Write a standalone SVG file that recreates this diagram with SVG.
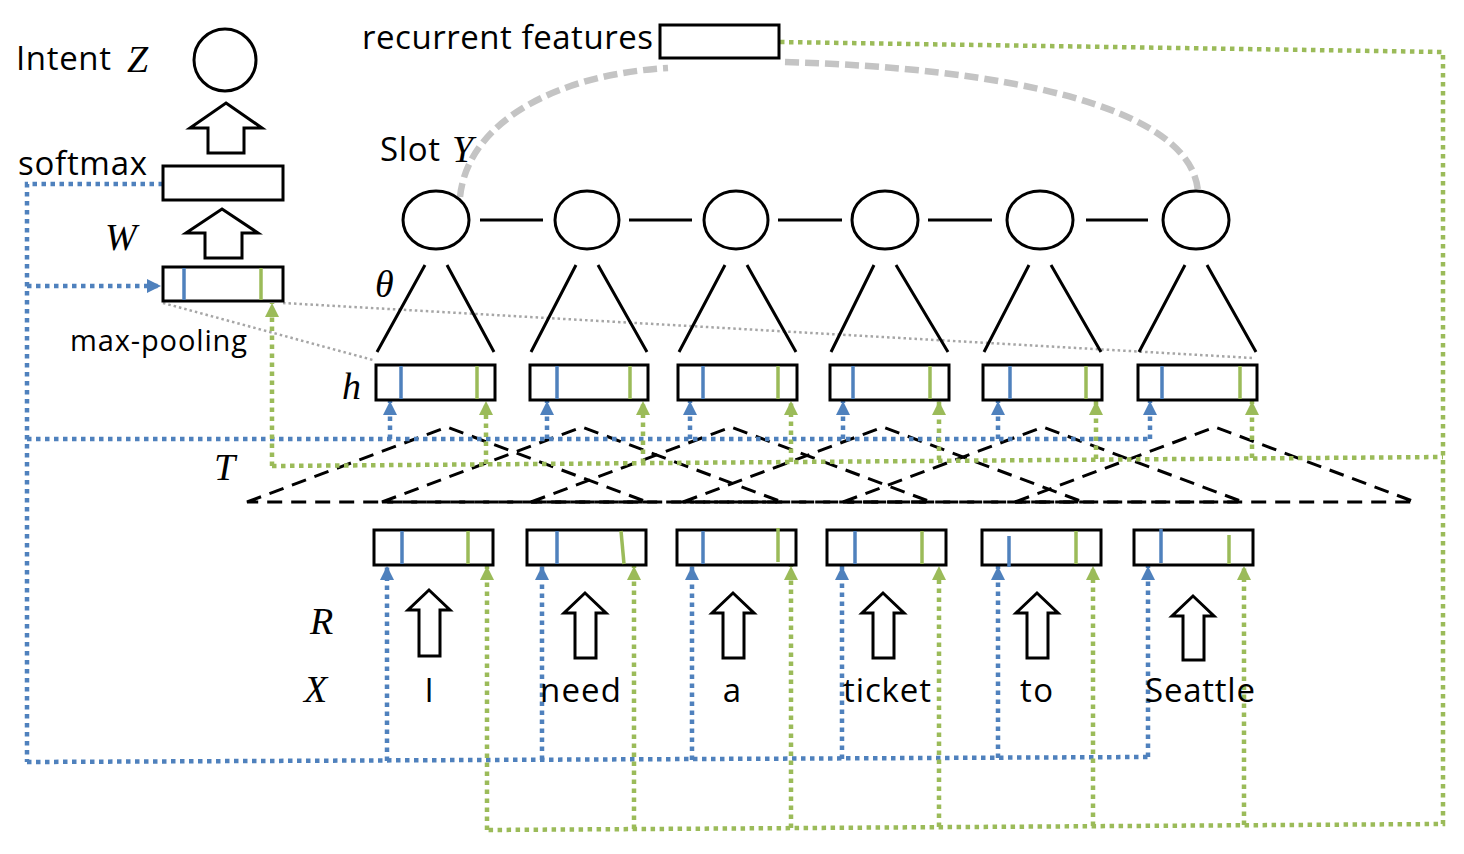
<svg xmlns="http://www.w3.org/2000/svg" width="1464" height="854" viewBox="0 0 1464 854">
<defs>
<style>
.box{fill:#fff;stroke:#000;stroke-width:3}
.circ{fill:#fff;stroke:#000;stroke-width:3}
.ln{stroke:#000;stroke-width:3;fill:none}
.barb{stroke:#4F81BD;stroke-width:3.5}
.barg{stroke:#9BBB59;stroke-width:3.5}
.blue{stroke:#4F81BD;stroke-width:4.5;stroke-dasharray:4.5 4.5;fill:none}
.green{stroke:#9BBB59;stroke-width:4.5;stroke-dasharray:4.5 4.5;fill:none}
.gray{stroke:#a6a6a6;stroke-width:2.5;stroke-dasharray:2.5 3;fill:none}
.grayd{stroke:#c4c4c4;stroke-width:6.5;stroke-dasharray:14 6;fill:none}
.tri{stroke:#000;stroke-width:3;stroke-dasharray:15 9;fill:none}
.blk{fill:#fff;stroke:#000;stroke-width:3;stroke-linejoin:miter}
.sans{font-family:'Open Sans','Noto Sans',sans-serif;font-size:33px;fill:#000}
.math{font-family:'Liberation Serif',serif;font-style:italic;font-size:38px;fill:#000}
</style>
<marker id="ab" viewBox="0 0 10 10" refX="10" refY="5" markerWidth="14" markerHeight="14" markerUnits="userSpaceOnUse" orient="auto"><path d="M0,0 L10,5 L0,10 z" fill="#4F81BD"/></marker>
<marker id="ag" viewBox="0 0 10 10" refX="10" refY="5" markerWidth="14" markerHeight="14" markerUnits="userSpaceOnUse" orient="auto"><path d="M0,0 L10,5 L0,10 z" fill="#9BBB59"/></marker>
</defs>
<rect width="1464" height="854" fill="#fff"/>

<!-- connectors -->
<g id="connectors">
  <path class="grayd" d="M460,197 C468,120 560,74 668,68"/>
  <path class="grayd" d="M785,62 C1000,68 1192,105 1198,192"/>
  <path class="gray" d="M163,303 L373,360"/>
  <path class="gray" d="M283,303 L1253,358"/>
  <path class="ln" d="M480,220 H543 M629,220 H692 M778,220 H842 M928,220 H992 M1086,220 H1148"/>
  <path class="ln" d="M425,265 L377,352 M447,265 L494,352
    M576,265 L531,352 M598,265 L647,352
    M725,265 L679,352 M747,265 L796,352
    M874,265 L831,352 M896,265 L948,352
    M1029,265 L984,352 M1051,265 L1101,352
    M1185,265 L1139,352 M1207,265 L1256,352"/>
  <path class="tri" d="M247,502 L447,427 L647,502 Z"/>
  <path class="tri" d="M382,502 L582,427 L782,502 Z"/>
  <path class="tri" d="M531,502 L731,427 L931,502 Z"/>
  <path class="tri" d="M683,502 L883,427 L1083,502 Z"/>
  <path class="tri" d="M843,502 L1043,427 L1243,502 Z"/>
  <path class="tri" d="M1015,502 L1215,427 L1415,502 Z"/>
  <path class="blue" d="M163,184 H27 V762"/>
  <path class="blue" d="M27,286 H161" marker-end="url(#ab)"/>
  <path class="blue" d="M27,439 H1150"/>
  <path class="blue" d="M390,439 V401" marker-end="url(#ab)"/>
  <path class="blue" d="M547,439 V401" marker-end="url(#ab)"/>
  <path class="blue" d="M690,439 V401" marker-end="url(#ab)"/>
  <path class="blue" d="M843,439 V401" marker-end="url(#ab)"/>
  <path class="blue" d="M998,439 V401" marker-end="url(#ab)"/>
  <path class="blue" d="M1150,439 V401" marker-end="url(#ab)"/>
  <path class="blue" d="M27,762 L1148,757"/>
  <path class="blue" d="M387,761 V566" marker-end="url(#ab)"/>
  <path class="blue" d="M542,760 V566" marker-end="url(#ab)"/>
  <path class="blue" d="M692,760 V566" marker-end="url(#ab)"/>
  <path class="blue" d="M842,759 V566" marker-end="url(#ab)"/>
  <path class="blue" d="M998,758 V566" marker-end="url(#ab)"/>
  <path class="blue" d="M1148,757 V566" marker-end="url(#ab)"/>
  <path class="green" d="M780,42 L1443,52 V824 L487,830"/>
  <path class="green" d="M272,466 L1443,457"/>
  <path class="green" d="M272,466 V303" marker-end="url(#ag)"/>
  <path class="green" d="M486,464 V401" marker-end="url(#ag)"/>
  <path class="green" d="M643,463 V401" marker-end="url(#ag)"/>
  <path class="green" d="M791,462 V401" marker-end="url(#ag)"/>
  <path class="green" d="M939,460 V401" marker-end="url(#ag)"/>
  <path class="green" d="M1096,459 V401" marker-end="url(#ag)"/>
  <path class="green" d="M1252,458 V401" marker-end="url(#ag)"/>
  <path class="green" d="M487,830 V566" marker-end="url(#ag)"/>
  <path class="green" d="M634,829 V566" marker-end="url(#ag)"/>
  <path class="green" d="M791,828 V566" marker-end="url(#ag)"/>
  <path class="green" d="M939,827 V566" marker-end="url(#ag)"/>
  <path class="green" d="M1093,826 V566" marker-end="url(#ag)"/>
  <path class="green" d="M1244,825 V566" marker-end="url(#ag)"/>
</g>

<g id="intent">
  <circle class="circ" cx="225" cy="60" r="31"/>
  <text class="sans" x="16" y="70" textLength="95">Intent</text>
  <text class="math" x="127" y="72">Z</text>
</g>
<g id="arrow-intent"><polygon class="blk" points="226,103 262,128 244,128 244,153 208,153 208,128 190,128"/></g>
<g id="softmax">
  <rect class="box" x="163" y="166" width="120" height="34"/>
  <text class="sans" x="18" y="175" textLength="129">softmax</text>
</g>
<g id="arrow-w"><polygon class="blk" points="222,209 258,233 242,233 242,258 205,258 205,233 186,233"/></g>
<text class="math" x="105" y="250">W</text>
<g id="maxpool">
  <rect class="box" x="163" y="267" width="120" height="34"/>
  <line class="barb" x1="184" y1="268" x2="184" y2="300"/>
  <line class="barg" x1="261" y1="268" x2="261" y2="300"/>
  <text class="sans" x="70" y="351" style="font-size:29px" textLength="177">max-pooling</text>
</g>

<g id="recurrent">
  <rect class="box" x="660" y="25" width="119" height="33"/>
  <text class="sans" x="362" y="49" textLength="291">recurrent features</text>
</g>

<g id="slot-label"><text class="sans" x="380" y="161" textLength="60">Slot</text><text class="math" x="452" y="162">Y</text></g>
<g id="slot1"><ellipse class="circ" cx="436" cy="220" rx="33" ry="29"/></g>
<g id="slot2"><ellipse class="circ" cx="587" cy="220" rx="32" ry="29"/></g>
<g id="slot3"><ellipse class="circ" cx="736" cy="220" rx="32" ry="29"/></g>
<g id="slot4"><ellipse class="circ" cx="885" cy="220" rx="33" ry="29"/></g>
<g id="slot5"><ellipse class="circ" cx="1040" cy="220" rx="33" ry="29"/></g>
<g id="slot6"><ellipse class="circ" cx="1196" cy="220" rx="33" ry="29"/></g>
<text class="math" x="375" y="297">θ</text>
<text class="math" x="342" y="399">h</text>
<text class="math" x="214" y="480">T</text>
<text class="math" x="310" y="634">R</text>
<text class="math" x="304" y="702">X</text>

<g id="h1"><rect class="box" x="376" y="365" width="119" height="35"/><line class="barb" x1="401" y1="366" x2="401" y2="399"/><line class="barg" x1="477" y1="366" x2="477" y2="399"/></g>
<g id="h2"><rect class="box" x="530" y="365" width="118" height="35"/><line class="barb" x1="557" y1="366" x2="557" y2="399"/><line class="barg" x1="630" y1="366" x2="630" y2="399"/></g>
<g id="h3"><rect class="box" x="678" y="365" width="119" height="35"/><line class="barb" x1="703" y1="366" x2="703" y2="399"/><line class="barg" x1="778" y1="366" x2="778" y2="399"/></g>
<g id="h4"><rect class="box" x="830" y="365" width="119" height="35"/><line class="barb" x1="853" y1="366" x2="853" y2="399"/><line class="barg" x1="930" y1="366" x2="930" y2="399"/></g>
<g id="h5"><rect class="box" x="983" y="365" width="119" height="35"/><line class="barb" x1="1010" y1="366" x2="1010" y2="399"/><line class="barg" x1="1086" y1="366" x2="1086" y2="399"/></g>
<g id="h6"><rect class="box" x="1138" y="365" width="119" height="35"/><line class="barb" x1="1162" y1="366" x2="1162" y2="399"/><line class="barg" x1="1240" y1="366" x2="1240" y2="399"/></g>

<g id="r1"><rect class="box" x="374" y="530" width="119" height="35"/><line class="barb" x1="402" y1="531" x2="402" y2="564"/><line class="barg" x1="468" y1="531" x2="468" y2="564"/></g>
<g id="r2"><rect class="box" x="527" y="530" width="119" height="35"/><line class="barb" x1="557" y1="531" x2="557" y2="564"/><line class="barg" x1="621" y1="531" x2="624" y2="564"/></g>
<g id="r3"><rect class="box" x="677" y="530" width="119" height="35"/><line class="barb" x1="703" y1="531" x2="703" y2="564"/><line class="barg" x1="778" y1="528" x2="778" y2="562"/></g>
<g id="r4"><rect class="box" x="827" y="530" width="119" height="35"/><line class="barb" x1="855" y1="531" x2="855" y2="564"/><line class="barg" x1="922" y1="531" x2="922" y2="564"/></g>
<g id="r5"><rect class="box" x="982" y="530" width="119" height="35"/><line class="barb" x1="1009" y1="536" x2="1009" y2="567"/><line class="barg" x1="1076" y1="531" x2="1076" y2="564"/></g>
<g id="r6"><rect class="box" x="1134" y="530" width="119" height="35"/><line class="barb" x1="1161" y1="529" x2="1161" y2="563"/><line class="barg" x1="1229" y1="535" x2="1229" y2="564"/></g>

<g id="in1"><polygon class="blk" points="429,590 450,610 440,610 440,656 419,656 419,610 408,610"/></g>
<g id="in2"><polygon class="blk" points="585,593 606,613 596,613 596,658 575,658 575,613 564,613"/></g>
<g id="in3"><polygon class="blk" points="733,593 754,613 744,613 744,658 723,658 723,613 712,613"/></g>
<g id="in4"><polygon class="blk" points="883,593 904,613 894,613 894,658 873,658 873,613 862,613"/></g>
<g id="in5"><polygon class="blk" points="1037,593 1058,613 1048,613 1048,658 1027,658 1027,613 1016,613"/></g>
<g id="in6"><polygon class="blk" points="1193,596 1214,616 1204,616 1204,660 1183,660 1183,616 1172,616"/></g>

<g id="words">
  <text class="sans" x="429" y="702" text-anchor="middle">I</text>
  <text class="sans" x="540" y="702" textLength="81">need</text>
  <text class="sans" x="732" y="702" text-anchor="middle">a</text>
  <text class="sans" x="843" y="702" textLength="88">ticket</text>
  <text class="sans" x="1020" y="702" textLength="33">to</text>
  <text class="sans" x="1145" y="702" textLength="110">Seattle</text>
</g>
</svg>
